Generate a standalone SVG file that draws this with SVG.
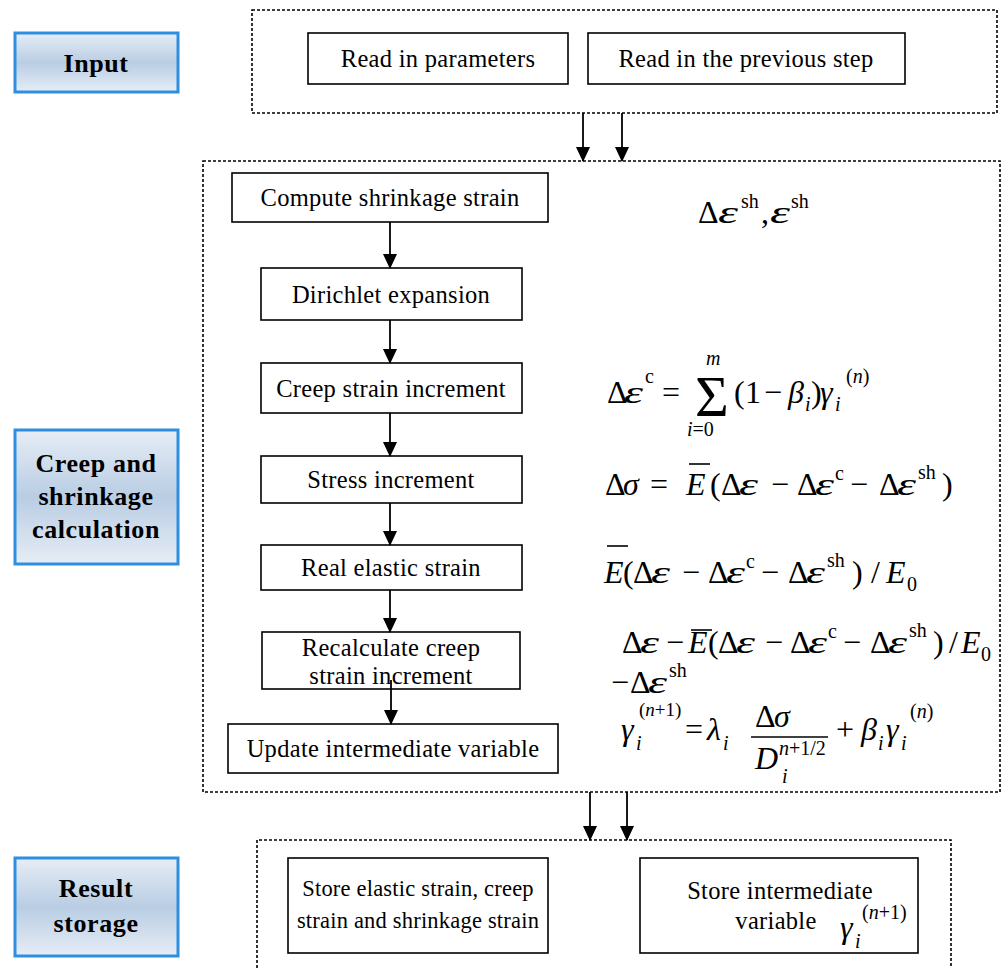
<svg xmlns="http://www.w3.org/2000/svg" width="1004" height="968" viewBox="0 0 1004 968">
<defs>
<linearGradient id="blueg" x1="0" y1="0" x2="0" y2="1">
<stop offset="0" stop-color="#e6edf6"/>
<stop offset="0.5" stop-color="#b9cde3"/>
<stop offset="1" stop-color="#e6edf6"/>
</linearGradient>
<marker id="ah" markerUnits="userSpaceOnUse" markerWidth="16" markerHeight="18" refX="14" refY="7" orient="auto">
<path d="M0,0 L15,7 L0,14 Z" fill="#000"/>
</marker>
</defs>
<style>
.frame{fill:none;stroke:#000;stroke-width:1.6;stroke-dasharray:3 2}
.box{fill:#fff;stroke:#000;stroke-width:1.6}
.lab{fill:url(#blueg);stroke:#2e8fe0;stroke-width:3}
.t{font-family:"Liberation Serif","Times New Roman",serif;font-size:24.5px;letter-spacing:0.3px;fill:#000;text-anchor:middle}
.t2{font-size:22.5px;letter-spacing:0.2px}
.b{font-family:"Liberation Serif","Times New Roman",serif;font-size:26px;letter-spacing:0.6px;font-weight:bold;fill:#000;text-anchor:middle}
.m{font-family:"Liberation Serif","Times New Roman",serif;font-size:32px;fill:#000}
.it{font-style:italic}
.s{font-size:20px}
.s2{font-size:19px}
.conn line{stroke:#000;stroke-width:1.8;marker-end:url(#ah)}
.bar{stroke:#000;stroke-width:1.6}
</style>

<g id="frame-input"><rect class="frame" x="252" y="10" width="745" height="103"/></g>
<g id="frame-calc"><rect class="frame" x="203" y="161" width="797" height="631"/></g>
<g id="frame-result"><path class="frame" d="M257,968 V840 H951 V968"/></g>

<g id="label-input"><rect class="lab" x="15" y="33" width="163" height="59"/><text class="b" x="96" y="72">Input</text></g>
<g id="label-calc"><rect class="lab" x="15" y="430" width="163" height="134"/>
<text class="b" x="96" y="472">Creep and</text><text class="b" x="96" y="505">shrinkage</text><text class="b" x="96" y="538">calculation</text></g>
<g id="label-result"><rect class="lab" x="15" y="858" width="163" height="98"/>
<text class="b" x="96" y="897">Result</text><text class="b" x="96" y="932">storage</text></g>

<g id="read-params"><rect class="box" x="308" y="33" width="260" height="51"/><text class="t" x="438" y="67">Read in parameters</text></g>
<g id="read-prev"><rect class="box" x="588" y="33" width="317" height="51"/><text class="t" x="746" y="67">Read in the previous step</text></g>

<g id="compute-shrinkage"><rect class="box" x="232" y="173" width="316" height="49"/><text class="t" x="390" y="206">Compute shrinkage strain</text></g>
<g id="dirichlet"><rect class="box" x="261" y="268" width="261" height="52"/><text class="t" x="391" y="303">Dirichlet expansion</text></g>
<g id="creep-inc"><rect class="box" x="261" y="363" width="261" height="50"/><text class="t" x="391" y="397">Creep strain increment</text></g>
<g id="stress-inc"><rect class="box" x="261" y="456" width="261" height="47"/><text class="t" x="391" y="488">Stress increment</text></g>
<g id="real-elastic"><rect class="box" x="261" y="545" width="261" height="45"/><text class="t" x="391" y="576">Real elastic strain</text></g>
<g id="recalc"><rect class="box" x="262" y="632" width="258" height="57"/><text class="t" x="391" y="656">Recalculate creep</text><text class="t" x="391" y="684">strain increment</text></g>
<g id="update"><rect class="box" x="228" y="724" width="330" height="49"/><text class="t" x="393" y="757">Update intermediate variable</text></g>

<g id="store-elastic"><rect class="box" x="288" y="858" width="260" height="95"/><text class="t t2" x="418" y="896">Store elastic strain, creep</text><text class="t t2" x="418" y="928">strain and shrinkage strain</text></g>
<g id="store-inter"><rect class="box" x="640" y="858" width="278" height="95"/>
<text class="t" x="780" y="899">Store intermediate</text><text class="t" x="776" y="929">variable</text>
<text class="m it" x="840" y="938">γ</text><text class="m it s" x="855" y="948">i</text><text class="m s" x="862" y="919">(<tspan class="it">n</tspan>+1)</text></g>

<g id="connectors" class="conn">
<line x1="583" y1="113" x2="583" y2="161"/>
<line x1="622" y1="113" x2="622" y2="161"/>
<line x1="390" y1="222" x2="390" y2="268"/>
<line x1="390" y1="320" x2="390" y2="363"/>
<line x1="390" y1="413" x2="390" y2="456"/>
<line x1="390" y1="503" x2="390" y2="545"/>
<line x1="390" y1="590" x2="390" y2="632"/>
<line x1="391" y1="680" x2="391" y2="724"/>
<line x1="590" y1="792" x2="590" y2="840"/>
<line x1="627" y1="792" x2="627" y2="840"/>
</g>

<g id="eq-shrink">
<text class="m" x="698" y="223">Δ</text><text class="m it" x="718" y="223" textLength="20" lengthAdjust="spacingAndGlyphs">ε</text><text class="m s" x="741" y="208">sh</text>
<text class="m" x="761" y="223">,</text><text class="m it" x="770" y="223" textLength="20" lengthAdjust="spacingAndGlyphs">ε</text><text class="m s" x="791" y="208">sh</text>
</g>

<g id="eq-creep">
<text class="m" x="607" y="403">Δ</text><text class="m it" x="624" y="403" textLength="19" lengthAdjust="spacingAndGlyphs">ε</text>
<text class="m s" x="645" y="383">c</text>
<text class="m" x="662" y="403">=</text>
<text class="m" x="695" y="416" style="font-size:58px">Σ</text>
<text class="m s it" x="706" y="365">m</text>
<text class="m s" x="687" y="436"><tspan class="it">i</tspan>=0</text>
<text class="m" x="734" y="403">(</text>
<text class="m" x="745" y="403">1</text>
<text class="m" x="764" y="403">−</text>
<text class="m it" x="788" y="403">β</text>
<text class="m s it" x="805" y="411">i</text>
<text class="m" x="811" y="403">)</text>
<text class="m it" x="820" y="403">γ</text>
<text class="m s it" x="835" y="411">i</text>
<text class="m s" x="846" y="383">(<tspan class="it">n</tspan>)</text>
</g>

<g id="eq-stress">
<text class="m" x="605" y="495">Δ</text><text class="m it" x="623" y="495">σ</text>
<text class="m" x="650" y="495">=</text>
<text class="m it" x="686" y="495">E</text>
<line class="bar" x1="689" y1="464" x2="710" y2="464"/>
<text class="m" x="710" y="495">(</text><text class="m" x="721" y="495">Δ</text><text class="m it" x="739" y="495" textLength="19" lengthAdjust="spacingAndGlyphs">ε</text>
<text class="m" x="771" y="495">−</text>
<text class="m" x="797" y="495">Δ</text><text class="m it" x="815" y="495" textLength="19" lengthAdjust="spacingAndGlyphs">ε</text>
<text class="m s" x="835" y="480">c</text>
<text class="m" x="850" y="495">−</text>
<text class="m" x="879" y="495">Δ</text><text class="m it" x="897" y="495" textLength="19" lengthAdjust="spacingAndGlyphs">ε</text>
<text class="m s" x="918" y="479">sh</text>
<text class="m" x="942" y="495">)</text>
</g>

<g id="eq-elastic">
<text class="m it" x="604" y="583">E</text>
<line class="bar" x1="607" y1="546" x2="628" y2="546"/>
<text class="m" x="623" y="583">(</text><text class="m" x="633" y="583">Δ</text><text class="m it" x="651" y="583" textLength="19" lengthAdjust="spacingAndGlyphs">ε</text>
<text class="m" x="682" y="583">−</text>
<text class="m" x="708" y="583">Δ</text><text class="m it" x="726" y="583" textLength="19" lengthAdjust="spacingAndGlyphs">ε</text>
<text class="m s" x="746" y="568">c</text>
<text class="m" x="761" y="583">−</text>
<text class="m" x="788" y="583">Δ</text><text class="m it" x="806" y="583" textLength="19" lengthAdjust="spacingAndGlyphs">ε</text>
<text class="m s" x="827" y="567">sh</text>
<text class="m" x="852" y="583">)</text>
<text class="m" x="871" y="583">/</text>
<text class="m it" x="886" y="583">E</text>
<text class="m s" x="907" y="591">0</text>
</g>

<g id="eq-recalc">
<text class="m" x="622" y="653">Δ</text><text class="m it" x="640" y="653" textLength="19" lengthAdjust="spacingAndGlyphs">ε</text>
<text class="m" x="666" y="653">−</text>
<text class="m it" x="688" y="653">E</text>
<line class="bar" x1="691" y1="630" x2="712" y2="630"/>
<text class="m" x="708" y="653">(</text><text class="m" x="718" y="653">Δ</text><text class="m it" x="736" y="653" textLength="19" lengthAdjust="spacingAndGlyphs">ε</text>
<text class="m" x="765" y="653">−</text>
<text class="m" x="790" y="653">Δ</text><text class="m it" x="808" y="653" textLength="19" lengthAdjust="spacingAndGlyphs">ε</text>
<text class="m s" x="828" y="638">c</text>
<text class="m" x="843" y="653">−</text>
<text class="m" x="870" y="653">Δ</text><text class="m it" x="888" y="653" textLength="19" lengthAdjust="spacingAndGlyphs">ε</text>
<text class="m s" x="909" y="637">sh</text>
<text class="m" x="933" y="653">)</text>
<text class="m" x="949" y="653">/</text>
<text class="m it" x="961" y="653">E</text>
<text class="m s" x="981" y="661">0</text>
<text class="m" x="611" y="693">−</text><text class="m" x="630" y="693">Δ</text><text class="m it" x="648" y="693" textLength="19" lengthAdjust="spacingAndGlyphs">ε</text>
<text class="m s" x="669" y="677">sh</text>
</g>

<g id="eq-update">
<text class="m it" x="621" y="740">γ</text>
<text class="m s it" x="636" y="750">i</text>
<text class="m s2" x="639" y="716">(<tspan class="it">n</tspan>+1)</text>
<text class="m" x="685" y="740">=</text>
<text class="m it" x="707" y="740">λ</text>
<text class="m s it" x="723" y="750">i</text>
<text class="m" x="755" y="727">Δ</text><text class="m it" x="774" y="727">σ</text>
<line class="bar" x1="751" y1="737" x2="828" y2="737"/>
<text class="m it" x="755" y="769">D</text>
<text class="m s it" x="782" y="783">i</text>
<text class="m s" x="779" y="755"><tspan class="it">n</tspan>+1/2</text>
<text class="m" x="836" y="740">+</text>
<text class="m it" x="861" y="740">β</text>
<text class="m s it" x="878" y="750">i</text>
<text class="m it" x="886" y="740">γ</text>
<text class="m s it" x="901" y="750">i</text>
<text class="m s" x="910" y="718">(<tspan class="it">n</tspan>)</text>
</g>
</svg>
